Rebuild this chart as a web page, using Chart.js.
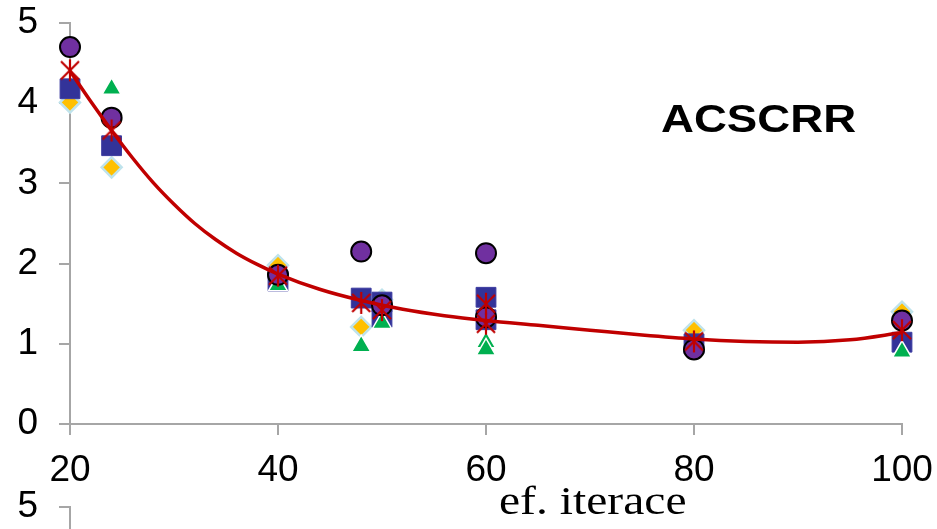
<html>
    <head>
        <script src="https://cdn.jsdelivr.net/npm/chart.js@4.4.1/dist/chart.umd.min.js"></script>
    </head>

    <body style="margin: 0; background-color: #FFFFFF; overflow: hidden;">
        <div style="position: relative; width: 937px; height: 529px; overflow: hidden;">
            <canvas id="plot" width="937" height="529" style="position: absolute; left: 0; top: 0;"></canvas>
            <canvas id="next" width="937" height="529" style="position: absolute; left: 0; top: 484px;"></canvas>
        </div>

        <script>
            // values
            const circleX = [20, 24, 40, 48, 50, 60, 60, 80, 100];
            const circleY = [4.70, 3.82, 1.86, 2.15, 1.48, 2.13, 1.33, 0.93, 1.29];

            const squareX = [20, 24, 40, 48, 50, 50, 60, 60, 80, 100];
            const squareY = [4.18, 3.47, 1.78, 1.57, 1.52, 1.33, 1.58, 1.30, 1.00, 1.02];

            const diamondX = [20, 24, 40, 48, 50, 80, 100];
            const diamondY = [4.01, 3.20, 1.98, 1.21, 1.55, 1.17, 1.40];

            const triangleX = [24, 40, 48, 50, 60, 60, 100];
            const triangleY = [4.18, 1.73, 0.97, 1.26, 1.02, 0.93, 0.90];

            const starX = [20, 24, 40, 48, 50, 60, 60, 80, 100];
            const starY = [4.41, 3.66, 1.85, 1.51, 1.42, 1.50, 1.25, 1.03, 1.17];

            // trend curve
            const trendX = [20, 22, 24, 26, 28, 30, 32, 34, 36, 38, 40, 44, 48, 52, 56, 60, 65, 70, 75, 80, 85, 90, 95, 100];
            const trendY = [4.40, 4.02, 3.66, 3.32, 3.01, 2.74, 2.50, 2.30, 2.13, 1.99, 1.87, 1.68, 1.54, 1.43, 1.35, 1.29, 1.23, 1.17, 1.11, 1.06, 1.03, 1.02, 1.05, 1.14];

            const xTicks = [20, 40, 60, 80, 100];
            const yTicks = [0, 1, 2, 3, 4, 5];

            const chartTitle = 'ACSCRR';
            const xTitle = 'ef. iterace';

            const axisGray = '#A6A6A6';
            const tickFont = { family: '"Liberation Sans", Arial, sans-serif', size: 37 };

            const pairs = (xs, ys) => xs.map((x, i) => ({ x: x, y: ys[i] }));

            // Excel style asterisk marker
            const star = document.createElement('canvas');
            star.width = 24;
            star.height = 24;
            const sctx = star.getContext('2d');
            sctx.strokeStyle = '#C00000';
            sctx.lineWidth = 2.2;
            sctx.beginPath();
            sctx.moveTo(3, 3); sctx.lineTo(21, 21);
            sctx.moveTo(21, 3); sctx.lineTo(3, 21);
            sctx.moveTo(12, 1); sctx.lineTo(12, 23);
            sctx.stroke();

            const textPlugin = {
                id: 'texts',
                afterDraw(chart) {
                    const ctx = chart.ctx;
                    ctx.save();
                    ctx.fillStyle = '#000000';
                    ctx.textAlign = 'left';
                    ctx.textBaseline = 'alphabetic';

                    ctx.save();
                    ctx.translate(661, 132);
                    ctx.scale(1.2, 1);
                    ctx.font = 'bold 38px "Liberation Sans", Arial, sans-serif';
                    ctx.fillText(chartTitle, 0, 0);
                    ctx.restore();

                    ctx.save();
                    ctx.translate(499, 514);
                    ctx.scale(1.22, 1);
                    ctx.font = '39px "Liberation Serif", "Times New Roman", serif';
                    ctx.fillText(xTitle, 0, 0);
                    ctx.restore();

                    ctx.restore();
                }
            };

            const yScale = {
                min: 0,
                max: 5,
                afterFit: (s) => { s.width = 70; s.paddingTop = 0; s.paddingBottom = 0; },
                afterBuildTicks: (s) => { s.ticks = yTicks.map(v => ({ value: v })); },
                ticks: { color: '#000000', font: tickFont, padding: 21 },
                grid: { drawOnChartArea: false, drawTicks: true, tickLength: 11, color: axisGray, lineWidth: 2 },
                border: { display: true, color: axisGray, width: 2 }
            };

            new Chart(document.getElementById('plot'), {
                type: 'scatter',
                data: {
                    datasets: [
                        {
                            label: 'star',
                            data: pairs(starX, starY),
                            pointStyle: star,
                            pointRadius: 12,
                            clip: false
                        },
                        {
                            label: 'trend',
                            data: pairs(trendX, trendY),
                            showLine: true,
                            borderColor: '#C00000',
                            borderWidth: 3.5,
                            pointRadius: 0,
                            cubicInterpolationMode: 'monotone',
                            clip: false
                        },
                        {
                            label: 'circle',
                            data: pairs(circleX, circleY),
                            pointStyle: 'circle',
                            pointRadius: 10,
                            backgroundColor: '#7030A0',
                            borderColor: '#000000',
                            borderWidth: 2,
                            clip: false
                        },
                        {
                            label: 'triangle',
                            data: pairs(triangleX, triangleY),
                            pointStyle: 'triangle',
                            pointRadius: 11,
                            backgroundColor: '#00B050',
                            borderColor: '#FFFFFF',
                            borderWidth: 1.5,
                            clip: false
                        },
                        {
                            label: 'square',
                            data: pairs(squareX, squareY),
                            pointStyle: 'rect',
                            pointRadius: 14,
                            backgroundColor: '#333399',
                            borderColor: '#3C3CA0',
                            borderWidth: 1,
                            clip: false
                        },
                        {
                            label: 'diamond',
                            data: pairs(diamondX, diamondY),
                            pointStyle: 'rectRot',
                            pointRadius: 10,
                            backgroundColor: '#FFC000',
                            borderColor: '#BFE3EC',
                            borderWidth: 2.5,
                            clip: false
                        }
                    ]
                },
                options: {
                    responsive: false,
                    animation: false,
                    layout: { padding: { left: 0, right: 35, top: 23, bottom: 0 } },
                    plugins: {
                        legend: { display: false },
                        tooltip: { enabled: false }
                    },
                    scales: {
                        x: {
                            type: 'linear',
                            min: 20,
                            max: 100,
                            afterFit: (s) => { s.height = 105; s.paddingLeft = 0; s.paddingRight = 0; },
                            afterBuildTicks: (s) => { s.ticks = xTicks.map(v => ({ value: v })); },
                            ticks: { color: '#000000', font: tickFont, padding: 14, maxRotation: 0 },
                            grid: { drawOnChartArea: false, drawTicks: true, tickLength: 11, color: axisGray, lineWidth: 2 },
                            border: { display: true, color: axisGray, width: 2 }
                        },
                        y: yScale
                    }
                },
                plugins: [textPlugin]
            });

            // top of the next panel, cut off by the window
            new Chart(document.getElementById('next'), {
                type: 'scatter',
                data: { datasets: [] },
                options: {
                    responsive: false,
                    animation: false,
                    layout: { padding: { left: 0, right: 35, top: 23, bottom: 0 } },
                    plugins: {
                        legend: { display: false },
                        tooltip: { enabled: false }
                    },
                    scales: {
                        x: { type: 'linear', min: 20, max: 100, display: false },
                        y: yScale
                    }
                }
            });
        </script>
    </body>
</html>
